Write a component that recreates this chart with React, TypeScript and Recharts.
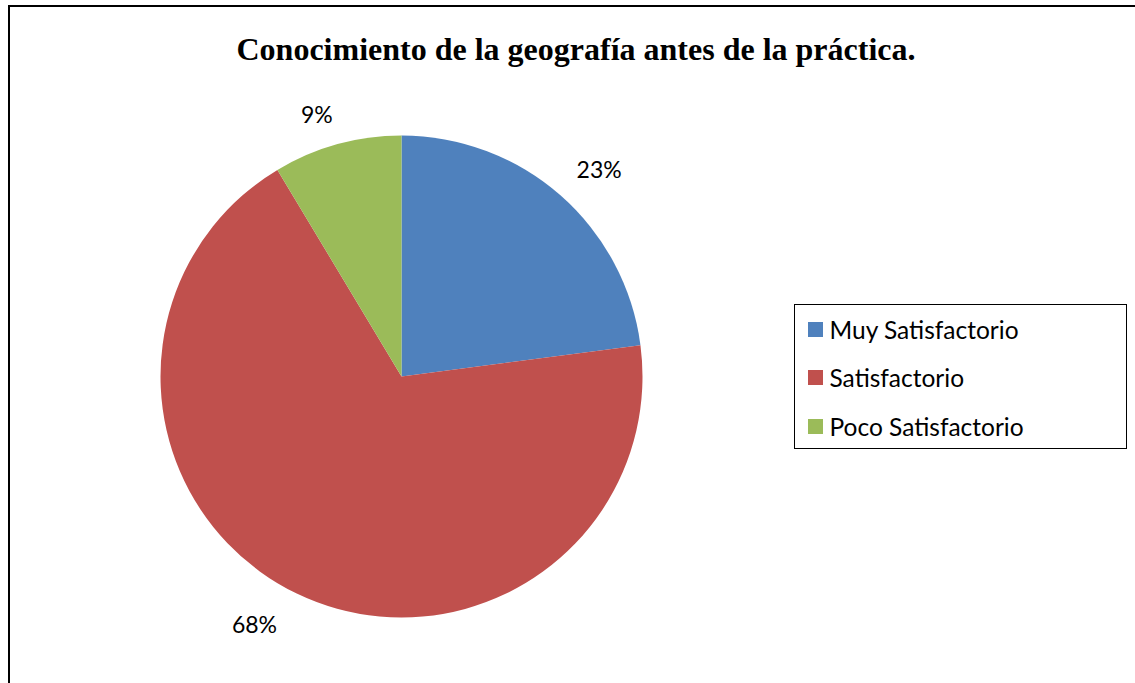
import React from "react";
import { PieChart, Pie, Cell, Legend } from "recharts";

const categories = ["Muy Satisfactorio", "Satisfactorio", "Poco Satisfactorio"];
const values = [22.9, 68.4, 8.6];
const colors = ["#4F81BD", "#C0504D", "#9BBB59"];
const title = "Conocimiento de la geografía antes de la práctica.";

const data = categories.map((name, i) => ({ name, value: values[i] }));

// label placement tweaks (best-fit style)
const labelShift = [
  [11, 5],
  [-24, -7],
  [-9, 10],
];

const RAD = Math.PI / 180;

const renderLabel = (props: any) => {
  const { cx, cy, midAngle, outerRadius, percent, index } = props;
  const r = outerRadius + 42;
  const [sx, sy] = labelShift[index] || [0, 0];
  const x = cx + r * Math.cos(-midAngle * RAD) + sx;
  const y = cy + r * Math.sin(-midAngle * RAD) + sy;
  return (
    <text
      x={x}
      y={y}
      textAnchor="middle"
      dominantBaseline="central"
      fill="#000"
      fontFamily="Lato, 'Open Sans', sans-serif"
      fontSize={23}
    >
      {`${Math.round(percent * 100)}%`}
    </text>
  );
};

const LegendContent = () => (
  <div
    style={{
      width: 333,
      height: 145,
      border: "1.5px solid #000",
      boxSizing: "border-box",
      background: "#fff",
      padding: "0 0 0 12.5px",
      fontFamily: "Lato, 'Open Sans', sans-serif",
      fontSize: 24.5,
      color: "#000",
    }}
  >
    {categories.map((c, i) => (
      <div
        key={c}
        style={{ display: "flex", alignItems: "center", height: 48.5 }}
      >
        <span
          style={{
            display: "inline-block",
            width: 15,
            height: 15,
            background: colors[i],
            marginRight: 7,
          }}
        />
        <span>{c}</span>
      </div>
    ))}
  </div>
);

export default function App() {
  return (
    <div
      style={{
        position: "absolute",
        left: 0,
        top: 0,
        width: 1135,
        height: 683,
        background: "#fff",
        overflow: "hidden",
      }}
    >
      <div
        style={{
          position: "absolute",
          left: 8,
          top: 5,
          width: 1200,
          height: 800,
          borderLeft: "2px solid #000",
          borderTop: "2px solid #000",
        }}
      />
      <div
        style={{
          position: "absolute",
          left: 0,
          top: 29,
          width: 1152,
          textAlign: "center",
          fontFamily: "'Liberation Serif', 'Times New Roman', serif",
          fontWeight: "bold",
          fontSize: 32,
          color: "#000",
          lineHeight: "40px",
          whiteSpace: "nowrap",
        }}
      >
        {title}
      </div>
      <div style={{ position: "absolute", left: 0, top: 0 }}>
        <PieChart
          width={1135}
          height={683}
          margin={{ top: 0, right: 0, bottom: 0, left: 0 }}
        >
          <Pie
            data={data}
            dataKey="value"
            nameKey="name"
            cx={401.5}
            cy={376.5}
            outerRadius={241}
            startAngle={90}
            endAngle={-270}
            stroke="none"
            label={renderLabel}
            labelLine={false}
            isAnimationActive={false}
          >
            {data.map((d, i) => (
              <Cell key={d.name} fill={colors[i]} />
            ))}
          </Pie>
          <Legend
            content={<LegendContent />}
            layout="vertical"
            wrapperStyle={{ position: "absolute", left: 794, top: 304, width: 333 }}
          />
        </PieChart>
      </div>
    </div>
  );
}
